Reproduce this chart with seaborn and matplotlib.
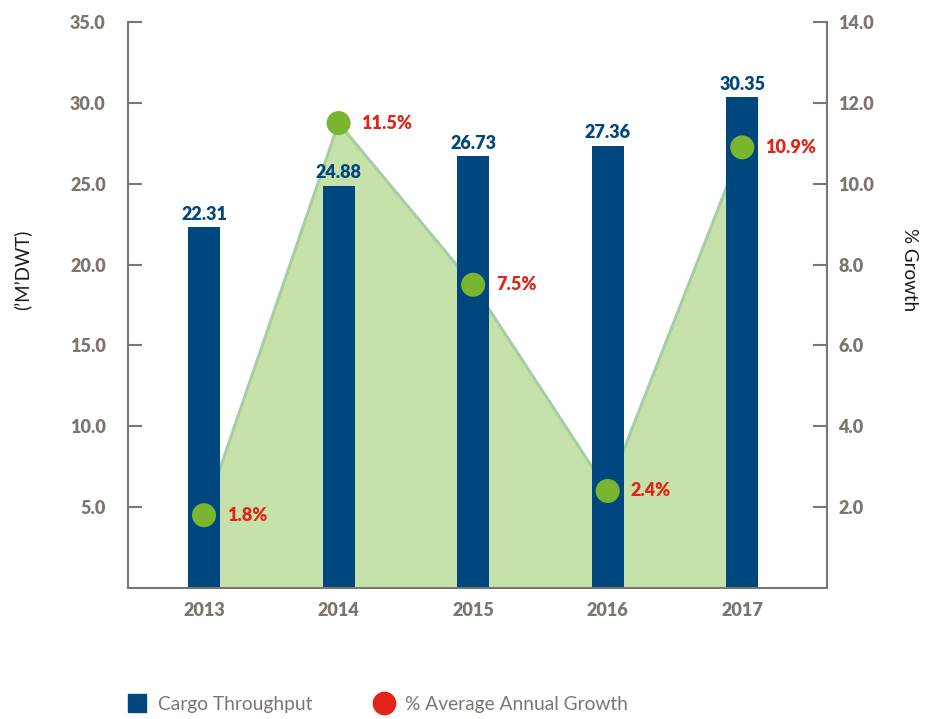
import numpy as np
import matplotlib.pyplot as plt
from matplotlib.lines import Line2D
import seaborn as sns

# chart data
years = ["2013", "2014", "2015", "2016", "2017"]
cargo = [22.31, 24.88, 26.73, 27.36, 30.35]
growth = [1.8, 11.5, 7.5, 2.4, 10.9]
growth_labels = ["1.8%", "11.5%", "7.5%", "2.4%", "10.9%"]
left_ticks = [5, 10, 15, 20, 25, 30, 35]
right_ticks = [2, 4, 6, 8, 10, 12, 14]

BLUE = "#00467f"
GREEN_FILL = "#c6e1a9"
GREEN_EDGE = "#a6cea4"
GREEN_DOT = "#79b52e"
RED = "#e2231a"
GREY = "#7d7570"

sns.set_style("white")
plt.rcParams["font.family"] = ["Lato", "DejaVu Sans"]

fig = plt.figure(figsize=(9.33, 7.19), dpi=100)
ax = fig.add_axes([0.1372, 0.1822, 0.7492, 0.7872])
ax2 = ax.twinx()   # area, behind the bars
ax3 = ax.twinx()   # dots, above the bars
ax.set_zorder(2)
ax2.set_zorder(1)
ax3.set_zorder(3)
ax.patch.set_visible(False)
ax3.patch.set_visible(False)

pos = np.arange(len(years))

# bars
sns.barplot(x=years, y=cargo, ax=ax, color=BLUE, saturation=1, width=0.238,
            edgecolor="none", linewidth=0)
ax.bar_label(ax.containers[0], fmt="%.2f", padding=3, color=BLUE,
             fontsize=13, fontweight="heavy")

# growth area
ax2.fill_between(pos, growth, color=GREEN_FILL, lw=0)
sns.lineplot(x=pos, y=growth, ax=ax2, color=GREEN_EDGE, lw=2.2)

# growth dots
sns.scatterplot(x=pos, y=growth, ax=ax3, s=300, color=GREEN_DOT, edgecolor="none")
for x, y, t in zip(pos, growth, growth_labels):
    ax3.annotate(t, (x, y), xytext=(16.5, 0), textcoords="offset points",
                 va="center", ha="left", color=RED, fontsize=13, fontweight="heavy")

for a in (ax, ax2, ax3):
    a.set_xlim(-0.565, 4.63)
ax.set_ylim(0, 35)
ax2.set_ylim(0, 14)
ax3.set_ylim(0, 14)

# left axis
ax.set_yticks(left_ticks)
ax.set_yticklabels([f"{v:.1f}" for v in left_ticks])
ax.tick_params(axis="y", direction="in", length=10, width=1.5, color=GREY,
               pad=16, labelcolor=GREY, labelsize=13)
ax.tick_params(axis="x", length=0, pad=10, labelcolor=GREY, labelsize=13)
for lab in ax.get_xticklabels() + ax.get_yticklabels():
    lab.set_fontweight("heavy")
ax.set_xlabel("")
ax.set_ylabel("")

# right axis
ax2.set_yticks(right_ticks)
ax2.set_yticklabels([f"{v:.1f}" for v in right_ticks])
ax2.tick_params(axis="y", direction="in", length=10, width=1.5, color=GREY,
                pad=8, labelcolor=GREY, labelsize=13)
for lab in ax2.get_yticklabels():
    lab.set_fontweight("heavy")
ax2.set_ylabel("")

ax3.set_yticks([])
ax3.set_ylabel("")

for a in (ax, ax2, ax3):
    for s in a.spines.values():
        s.set_visible(False)
ax.spines["left"].set_visible(True)
ax.spines["bottom"].set_visible(True)
ax2.spines["right"].set_visible(True)
for s in (ax.spines["left"], ax.spines["bottom"], ax2.spines["right"]):
    s.set_color(GREY)
    s.set_linewidth(1.5)

fig.text(22 / 933, 1 - 270 / 719, "(’M’DWT)", rotation=90, ha="center", va="center",
         fontsize=13.5, color="#1a1a1a")
fig.text(910 / 933, 1 - 270 / 719, "% Growth", rotation=270, ha="center", va="center",
         fontsize=13.5, color="#1a1a1a")

handles = [
    Line2D([], [], ls="none", marker="s", markersize=13.5, color=BLUE),
    Line2D([], [], ls="none", marker="o", markersize=16, color=RED),
]
fig.legend(handles, ["Cargo Throughput", "% Average Annual Growth"],
           loc="center left", bbox_to_anchor=(0.137, 0.02), ncol=2, frameon=False,
           fontsize=13.8, labelcolor=GREY, handlelength=1.0, handletextpad=0.6,
           columnspacing=3.2, borderpad=0, borderaxespad=0)

fig.savefig("out.png", dpi=100)
